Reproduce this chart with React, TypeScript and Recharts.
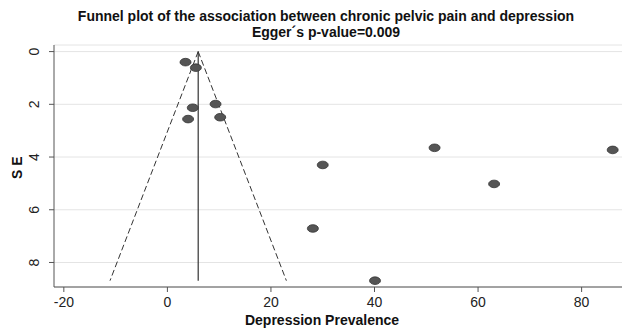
import React from "react";
import {
  ScatterChart,
  Scatter,
  XAxis,
  YAxis,
  CartesianGrid,
  ReferenceLine,
} from "recharts";

// studies: prevalence (%) vs standard error
const prevalence = [3.5, 5.5, 4.9, 9.3, 4.0, 10.2, 30.0, 28.1, 51.6, 86.0, 63.1, 40.1];
const standardError = [0.4, 0.61, 2.13, 1.99, 2.56, 2.49, 4.3, 6.71, 3.65, 3.73, 5.02, 8.69];

const pooled = 5.95;
const maxSE = 8.69;

const xTicks = [-20, 0, 20, 40, 60, 80];
const yTicks = [0, 2, 4, 6, 8];

const studies = prevalence.map((p, i) => ({ x: p, y: standardError[i] }));

const font = "'Liberation Sans', Arial, sans-serif";

const Dot = (props: any) => (
  <ellipse
    cx={props.cx}
    cy={props.cy}
    rx={5.5}
    ry={3.8}
    fill="#555555"
    stroke="#333333"
    strokeWidth={0.8}
  />
);

const YTick = (props: any) => {
  const { x, y, payload } = props;
  const bx = x - 8;
  return (
    <text
      x={bx}
      y={y}
      transform={`rotate(-90 ${bx} ${y})`}
      textAnchor="middle"
      fontSize={14}
      fontFamily={font}
      fill="#222"
    >
      {payload.value}
    </text>
  );
};

export default function App() {
  return (
    <div style={{ position: "absolute", left: 0, top: 0, width: 622, height: 333, background: "#fff" }}>
      <div
        style={{
          position: "absolute",
          left: 0,
          width: 652,
          top: 8,
          textAlign: "center",
          fontFamily: font,
          fontWeight: "bold",
          fontSize: 14,
          lineHeight: "16px",
          color: "#111",
        }}
      >
        Funnel plot of the association between chronic pelvic pain and depression
        <br />
        Egger´s p-value=0.009
      </div>
      <ScatterChart
        width={622}
        height={333}
        margin={{ top: 45, right: 0, bottom: 0, left: 0 }}
      >
        <CartesianGrid vertical={false} stroke="#e4e4e4" />
        <XAxis
          type="number"
          dataKey="x"
          domain={[-21.9, 87.8]}
          ticks={xTicks}
          allowDataOverflow
          height={46}
          tickSize={5}
          stroke="#555"
          tick={{ fontSize: 14, fontFamily: font, fill: "#222", dy: 3 }}
          label={{
            value: "Depression Prevalence",
            position: "insideBottom",
            offset: 8,
            fontSize: 14,
            fontWeight: "bold",
            fontFamily: font,
            fill: "#111",
            dx: -16,
          }}
        />
        <YAxis
          type="number"
          dataKey="y"
          reversed
          domain={[-0.25, 8.93]}
          ticks={yTicks}
          allowDataOverflow
          width={54}
          tickSize={5}
          stroke="#555"
          tick={<YTick />}
          label={{
            value: "S E",
            angle: -90,
            position: "insideLeft",
            offset: 17,
            fontSize: 14,
            fontWeight: "bold",
            fontFamily: font,
            fill: "#111",
            dy: 13,
          }}
        />
        <ReferenceLine
          segment={[{ x: pooled, y: 0 }, { x: pooled, y: maxSE }]}
          stroke="#333"
          strokeWidth={1.2}
        />
        <ReferenceLine
          segment={[{ x: pooled, y: 0 }, { x: pooled - 1.96 * maxSE, y: maxSE }]}
          stroke="#333"
          strokeDasharray="6 3"
          strokeWidth={1}
        />
        <ReferenceLine
          segment={[{ x: pooled, y: 0 }, { x: pooled + 1.96 * maxSE, y: maxSE }]}
          stroke="#333"
          strokeDasharray="6 3"
          strokeWidth={1}
        />
        <Scatter data={studies} shape={<Dot />} isAnimationActive={false} />
      </ScatterChart>
    </div>
  );
}
